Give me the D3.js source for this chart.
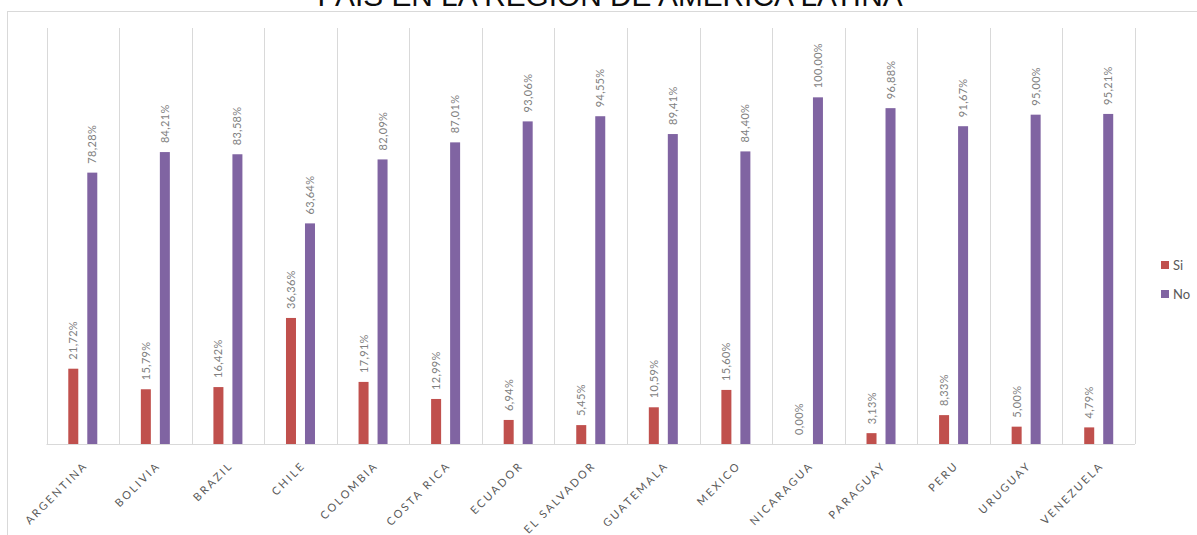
<!DOCTYPE html>
<html>
<head>
<meta charset="utf-8">
<script src="https://cdn.jsdelivr.net/npm/d3@7"></script>
<style>
  html, body { margin: 0; padding: 0; background: #fff; overflow: hidden; }
  svg { display: block; }
</style>
</head>
<body>
<svg id="chart" width="1197" height="535"></svg>
<script>
const categories = ["ARGENTINA","BOLIVIA","BRAZIL","CHILE","COLOMBIA","COSTA RICA","ECUADOR","EL SALVADOR","GUATEMALA","MEXICO","NICARAGUA","PARAGUAY","PERU","URUGUAY","VENEZUELA"];
const seriesNames = ["Si","No"];
const siValues = [21.72,15.79,16.42,36.36,17.91,12.99,6.94,5.45,10.59,15.60,0.00,3.13,8.33,5.00,4.79];
const noValues = [78.28,84.21,83.58,63.64,82.09,87.01,93.06,94.55,89.41,84.40,100.00,96.88,91.67,95.00,95.21];
const seriesColors = ["#C0504D","#8064A2"];
const titleText = "PAÍS EN LA REGIÓN DE AMÉRICA LATINA";

const svg = d3.select("#chart");
const W = 1197, H = 535;
const plot = {left: 46.5, right: 1135, top: 28, bottom: 444};

const locale = d3.formatLocale({decimal: ",", thousands: ".", grouping: [3], currency: ["", ""]});
const fmt = locale.format(".2f");

const data = categories.map((c, i) => ({cat: c, vals: [
  {s: "Si", v: siValues[i]}, {s: "No", v: noValues[i]}
]}));

const x0 = d3.scaleBand().domain(categories).range([plot.left, plot.right]).padding(0);
const bw = x0.bandwidth();
const x1 = d3.scaleBand().domain(seriesNames)
  .range([bw/2 - 14.5, bw/2 + 14.5]).paddingInner(0.4737).paddingOuter(0);
const y = d3.scaleLinear().domain([0, 120]).range([plot.bottom, plot.top]);
const color = d3.scaleOrdinal().domain(seriesNames).range(seriesColors);

// outer chart border
svg.append("rect").attr("x", 7.5).attr("y", 11.5).attr("width", W + 20).attr("height", H + 20)
  .attr("fill", "none").attr("stroke", "#d9d9d9").attr("stroke-width", 1);

// title (cut at top edge, as in the reference)
svg.append("text").attr("x", 610).attr("y", 6).attr("text-anchor", "middle")
  .attr("font-family", "'Liberation Sans', Arial, sans-serif").attr("font-size", 29.8)
  .attr("fill", "#0d0d0d").text(titleText);

// vertical gridlines at category boundaries
const bounds = categories.map(c => x0(c)).concat([plot.right]);
svg.append("g").selectAll("line").data(bounds).join("line")
  .attr("x1", d => Math.round(d) + 0.5).attr("x2", d => Math.round(d) + 0.5)
  .attr("y1", plot.top).attr("y2", plot.bottom)
  .attr("stroke", "#d9d9d9").attr("stroke-width", 1);

// bars
const groups = svg.append("g").selectAll("g").data(data).join("g")
  .attr("transform", d => `translate(${x0(d.cat)},0)`);
groups.selectAll("rect").data(d => d.vals).join("rect")
  .attr("x", d => x1(d.s)).attr("width", x1.bandwidth())
  .attr("y", d => y(d.v)).attr("height", d => y(0) - y(d.v))
  .attr("fill", d => color(d.s));

// data labels
groups.selectAll("text").data(d => d.vals).join("text")
  .attr("transform", d => `translate(${x1(d.s) + x1.bandwidth()/2 + 4},${y(d.v) - 9}) rotate(-90)`)
  .attr("font-family", "Lato, 'Open Sans', sans-serif").attr("font-size", 11)
  .attr("letter-spacing", 0.3)
  .attr("fill", "#7f7f7f").attr("text-anchor", "start")
  .text(d => fmt(d.v) + "%");

// baseline (x axis)
const xAxis = d3.axisBottom(x0).tickSize(0).tickPadding(0);
const axisG = svg.append("g").attr("transform", `translate(0,${plot.bottom + 0.5})`).call(xAxis);
axisG.select(".domain").attr("stroke", "#d9d9d9").attr("d", `M${plot.left},0H${plot.right}`);
axisG.selectAll(".tick text")
  .attr("transform", "translate(3,19) rotate(-45)")
  .attr("text-anchor", "end").attr("dy", "0.35em").attr("y", 0).attr("x", 0)
  .attr("font-family", "Lato, 'Open Sans', sans-serif").attr("font-size", 11)
  .attr("letter-spacing", 2.3)
  .attr("fill", "#595959");

// legend
const legend = svg.append("g").selectAll("g").data(seriesNames).join("g")
  .attr("transform", (d, i) => `translate(1161,${261 + i * 29})`);
legend.append("rect").attr("width", 8).attr("height", 8).attr("fill", d => color(d));
legend.append("text").attr("x", 12).attr("y", 8.5)
  .attr("font-family", "Lato, 'Open Sans', sans-serif").attr("font-size", 13)
  .attr("fill", "#595959").text(d => d);
</script>
</body>
</html>
